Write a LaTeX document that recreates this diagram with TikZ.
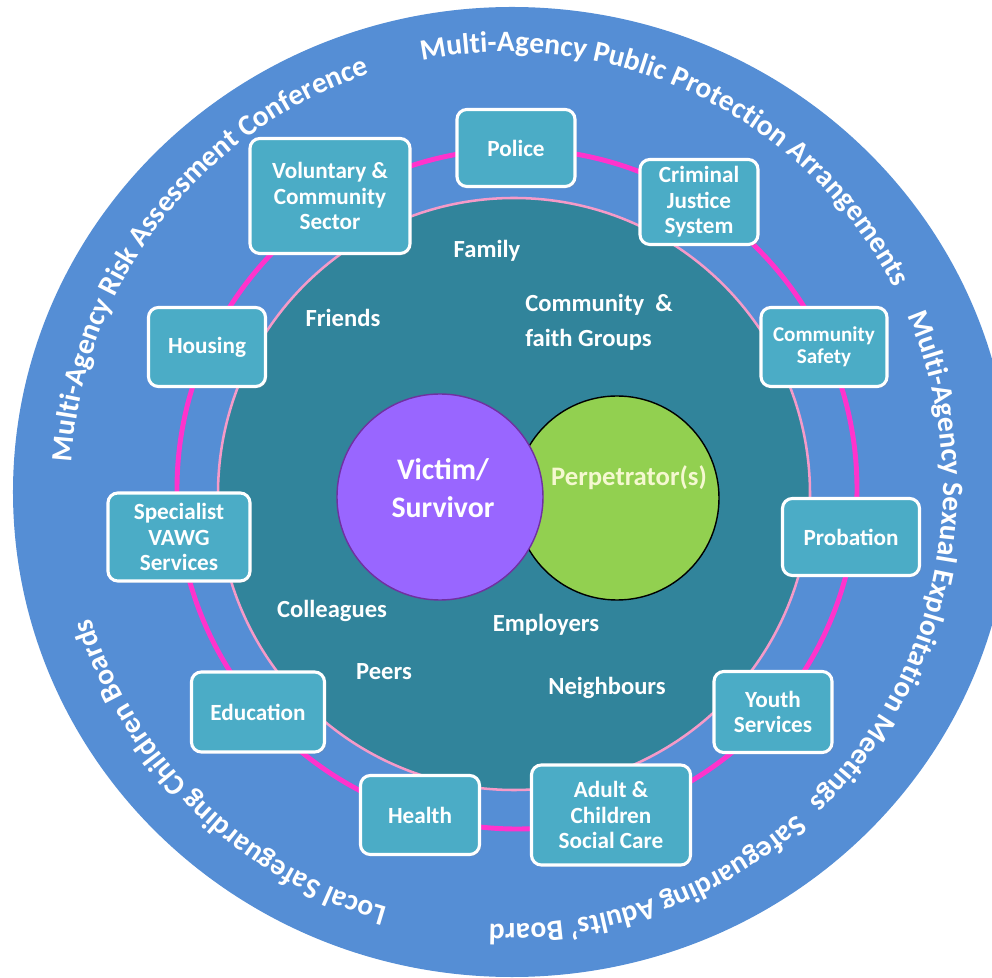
\documentclass[tikz,border=0pt]{standalone}
\usepackage{fontspec}
\setmainfont{Carlito}
\usepackage{tikz}
\usetikzlibrary{decorations.text}
\usetikzlibrary{shadows}
\definecolor{ringblue}{HTML}{558ED5}
\definecolor{agencyaqua}{HTML}{4BACC6}
\definecolor{innerteal}{HTML}{31849B}
\definecolor{ringpink}{HTML}{FF33CC}
\definecolor{rimpink}{HTML}{F59AC8}
\definecolor{victimpurple}{HTML}{9966FF}
\definecolor{victimrim}{HTML}{7030A0}
\definecolor{perpgreen}{HTML}{92D050}
\definecolor{perptext}{HTML}{F5F8D0}
\newcommand{\px}{0.025cm}
\newcommand{\ringfont}{\fontsize{21}{21}\selectfont\bfseries}
\newcommand{\boxfont}{\fontsize{16.5}{18.2}\selectfont\bfseries}
\newcommand{\smallboxfont}{\fontsize{15}{15.6}\selectfont\bfseries}
\newcommand{\labelfont}{\fontsize{17.5}{24.9}\selectfont\bfseries}
\newcommand{\victimfont}{\fontsize{21.2}{27}\selectfont\bfseries}
\newcommand{\perpfont}{\fontsize{19}{19}\selectfont\bfseries}
\tikzset{
  agency/.style 2 args={draw=white, line width=2.2pt, fill=agencyaqua, rounded corners=7pt,
    text=white, align=center, font=\boxfont, inner sep=1pt,
    minimum width=#1*\px, minimum height=#2*\px,
    drop shadow={shadow xshift=1.2pt, shadow yshift=-1.2pt, opacity=0.3}},
  circlelabel/.style={text=white, font=\labelfont, inner sep=0pt, align=center},
  ringtext/.style={decorate, decoration={text along path, text align=center,
    text color=white, text={|\ringfont|#1}}},
}
\begin{document}
\begin{tikzpicture}[x=\px, y=\px]
  \useasboundingbox (-515,-486) rectangle (477,492);
  \clip (-515,-486) rectangle (477,492);
  \fill[ringblue] (-3,0) ellipse[x radius=499, y radius=485] ; %
  \draw[rimpink, line width=1.8pt, fill=innerteal] (-1,-2) circle[radius=296] ; %
  \draw[ringpink, line width=3.5pt] (2,3) circle[radius=340] ; %
  % titles round the rim
  \path[ringtext={Multi-Agency Risk Assessment Conference}] (-8,4) ++(185:436) arc[start angle=185, end angle=100, radius=436] ; %
  \path[ringtext={Multi-Agency Public Protection Arrangements}] (-8,4) ++(107:436) arc[start angle=107, end angle=21.6, radius=436] ; %
  \path[ringtext={Multi-Agency Sexual Exploitation Meetings}] (-8,4) ++(30:436) arc[start angle=30, end angle=-52.8, radius=436] ; %
  \path[ringtext={Safeguarding Adults' Board}] (-8,4) ++(-42:436) arc[start angle=-42, end angle=-98.8, radius=436] ; %
  \path[ringtext={Local Safeguarding Children Boards}] (-8,4) ++(-96:436) arc[start angle=-96, end angle=-172.6, radius=436] ; %
  % agencies
  \node[agency={118}{77}] (police) at (1,344) {Police} ; %
  \node[agency={160}{115}] (voluntary) at (-185,296) {Voluntary \&\\Community\\Sector} ; %
  \node[agency={118}{85}] (justice) at (184,290) {Criminal\\Justice\\System} ; %
  \node[agency={126}{79}, font=\smallboxfont] (safety) at (309,145) {Community\\Safety} ; %
  \node[agency={117}{79}] (housing) at (-308,145) {Housing} ; %
  \node[agency={142}{88}] (vawg) at (-336,-45) {Specialist\\VAWG\\Services} ; %
  \node[agency={137}{77}] (probation) at (336,-45) {Probation} ; %
  \node[agency={133}{80}] (education) at (-257,-220) {Education} ; %
  \node[agency={118}{81}] (youth) at (258,-220) {Youth\\Services} ; %
  \node[agency={119}{79}] (health) at (-95,-323) {Health} ; %
  \node[agency={159}{100}] (socialcare) at (96,-323) {Adult \&\\Children\\Social Care} ; %
  % the people round the victim
  \node[circlelabel] (family) at (-28,241) {Family} ; %
  \node[circlelabel] (friends) at (-172,174) {Friends} ; %
  \node[circlelabel, anchor=west, align=left] (faith) at (10,170) {Community\ \ \&\\faith Groups} ; %
  \node[circlelabel] (colleagues) at (-183,-119) {Colleagues} ; %
  \node[circlelabel] (peers) at (-131,-180) {Peers} ; %
  \node[circlelabel] (employers) at (31,-133) {Employers} ; %
  \node[circlelabel] (neighbours) at (92,-196) {Neighbours} ; %
  % victim and perpetrator
  \node[circle, draw=black, line width=1pt, fill=perpgreen, minimum size=204*\px] (perp) at (102,-6) {} ; %
  \node[circle, draw=victimrim, line width=1pt, fill=victimpurple, minimum size=206*\px] (victim) at (-75,-5) {} ; %
  \node[circlelabel, font=\victimfont] (victimtext) at (-72,4) {Victim/\\Survivor} ; %
  \node[circlelabel, font=\perpfont, text=perptext] (perptext) at (114,14) {Perpetrator(s)} ; %
\end{tikzpicture}
\end{document}
